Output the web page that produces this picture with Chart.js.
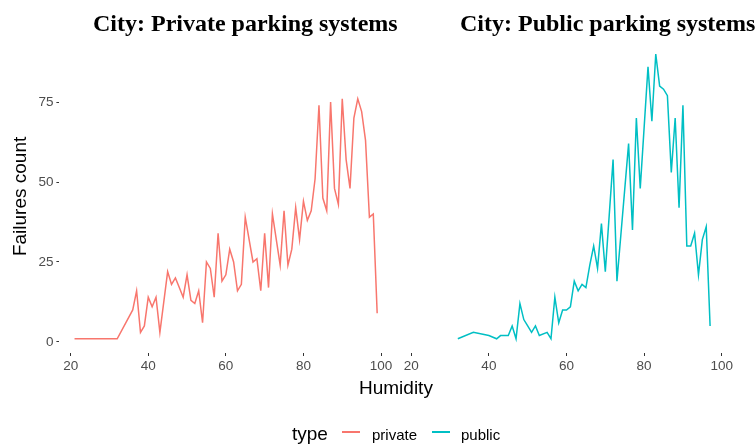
<!DOCTYPE html>
<html>
<head>
<meta charset="utf-8">
<script src="https://cdn.jsdelivr.net/npm/chart.js@4.4.1/dist/chart.umd.min.js"></script>
<style>
  body { margin: 0; background: #fff; }
  #wrap { position: relative; width: 756px; height: 446px; overflow: hidden; background: #fff; font-family: "Liberation Sans", Arial, sans-serif; }
  .panel { position: absolute; top: 0; }
  .ptitle { position: absolute; top: 10px; font-family: "Liberation Serif", "DejaVu Serif", serif; font-weight: bold; font-size: 24px; color: #000; white-space: nowrap; }
  .txt { position: absolute; white-space: nowrap; color: #000; }
  .key { position: absolute; height: 2px; width: 18px; top: 431px; }
</style>
</head>
<body>
<div id="wrap">
  <div class="panel" style="left:0"><canvas id="left" width="400" height="400"></canvas></div>
  <div class="panel" style="left:396px"><canvas id="right" width="360" height="400"></canvas></div>
  <div class="ptitle" style="left:93px">City: Private parking systems</div>
  <div class="ptitle" style="left:460px">City: Public parking systems</div>
  <div class="txt" style="left:359px;top:377px;font-size:19px">Humidity</div>
  <div class="txt" style="left:292px;top:423px;font-size:19px">type</div>
  <div class="key" style="left:342px;background:#F8766D"></div>
  <div class="txt" style="left:372px;top:426px;font-size:15px">private</div>
  <div class="key" style="left:432px;background:#00BFC4"></div>
  <div class="txt" style="left:461px;top:426px;font-size:15px">public</div>
</div>
<script>
const xTicks = [20, 40, 60, 80, 100];
const yTicks = [0, 25, 50, 75];

const privHumidity = [21, 32, 36, 37, 38, 39, 40, 41, 42, 43, 45, 46, 47, 48, 49, 50, 51, 52, 53, 54,
  55, 56, 57, 58, 59, 60, 61, 62, 63, 64, 65, 67, 68, 69, 70, 71, 72, 74, 75, 76,
  77, 78, 79, 80, 81, 82, 83, 84, 85, 86, 87, 88, 89, 90, 91, 92, 93, 94, 95, 96,
  97, 98, 99];
const privFailures = [1, 1, 10, 16, 3, 5, 14, 11, 14, 3, 22, 18, 20, 17, 14, 21, 13, 12, 16, 6,
  25, 23, 14, 34, 19, 21, 29, 25, 16, 18, 39, 25, 26, 16, 34, 17, 40, 24, 41, 24,
  29, 42, 32, 44, 38, 41, 51, 74, 45, 41, 75, 48, 43, 76, 57, 48, 70, 76, 72, 63,
  39, 40, 9];

const pubHumidity = [32, 36, 40, 42, 43, 45, 46, 47, 48, 49, 50, 51, 52, 53, 55, 56, 57, 58, 59, 60,
  61, 62, 63, 64, 65, 66, 67, 68, 69, 70, 72, 73, 76, 77, 78, 79, 81, 82, 83, 84,
  85, 86, 87, 88, 89, 90, 91, 92, 93, 94, 95, 96, 97];
const pubFailures = [1, 3, 2, 1, 2, 2, 5, 1, 12, 7, 5, 3, 5, 2, 3, 1, 14, 6, 10, 10,
  11, 19, 16, 18, 17, 24, 30, 23, 37, 22, 57, 19, 62, 35, 70, 48, 86, 69, 90, 80,
  79, 77, 53, 70, 42, 74, 30, 30, 34, 21, 32, 36, 5];

const xMin = 17.1, xMax = 102.9, yMin = -3.45, yMax = 94.45;

function points(xs, ys) {
  return xs.map((x, i) => ({ x: x, y: ys[i] }));
}

function tickGrid() {
  return { display: true, drawOnChartArea: false, drawTicks: true, tickLength: 3, tickWidth: 1, color: '#333333' };
}

function makeChart(id, xs, ys, color, showY, pad) {
  return new Chart(document.getElementById(id), {
    type: 'line',
    data: {
      datasets: [{
        data: points(xs, ys),
        borderColor: color,
        borderWidth: 1.5,
        pointRadius: 0,
        tension: 0,
        fill: false
      }]
    },
    options: {
      responsive: false,
      animation: false,
      devicePixelRatio: 1,
      layout: { padding: pad },
      plugins: { legend: { display: false }, tooltip: { enabled: false } },
      scales: {
        x: {
          type: 'linear',
          min: xMin,
          max: xMax,
          afterBuildTicks: s => { s.ticks = xTicks.map(v => ({ value: v })); },
          afterFit: s => { s.height = 47; },
          grid: tickGrid(),
          border: { display: false },
          ticks: { color: '#4d4d4d', font: { size: 13.5, family: 'Liberation Sans' }, padding: 2, maxRotation: 0 }
        },
        y: {
          display: showY,
          min: yMin,
          max: yMax,
          afterBuildTicks: s => { s.ticks = yTicks.map(v => ({ value: v })); },
          afterFit: s => { s.width = showY ? 59.4 : 0; },
          grid: tickGrid(),
          border: { display: false },
          ticks: { color: '#4d4d4d', font: { size: 13.5, family: 'Liberation Sans' }, padding: 3 },
          title: { display: true, text: 'Failures count', color: '#000', font: { size: 19, family: 'Liberation Sans' }, padding: { top: 9, bottom: 0 } }
        }
      }
    }
  });
}

makeChart('left', privHumidity, privFailures, '#F8766D', true, { top: 39.8, right: 7.7, left: 0, bottom: 0 });
makeChart('right', pubHumidity, pubFailures, '#00BFC4', false, { top: 39.8, right: 23, left: 4, bottom: 0 });
</script>
</body>
</html>
